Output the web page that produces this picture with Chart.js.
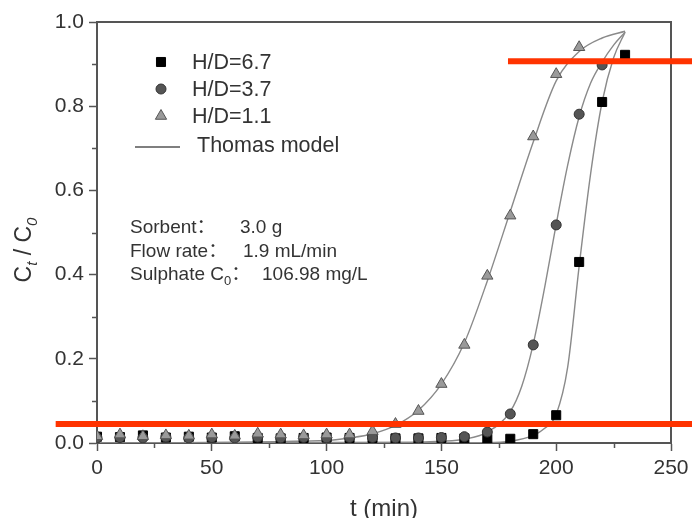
<!DOCTYPE html>
<html>
<head>
<meta charset="utf-8">
<script src="https://cdn.jsdelivr.net/npm/chart.js@4.4.1/dist/chart.umd.min.js"></script>
<style>
  html, body { margin: 0; padding: 0; background: #ffffff; }
  #wrap { width: 692px; height: 518px; }
</style>
</head>
<body>
<div id="wrap"><canvas id="chart" width="692" height="518"></canvas></div>
<script>
// Sampling times (min) of the measured breakthrough points
const sampleTime = [0, 10, 20, 30, 40, 50, 60, 70, 80, 90, 100, 110, 120, 130, 140, 150, 160, 170, 180, 190, 200, 210, 220, 230];

// Measured Ct/C0 for each bed height / diameter ratio
const ratio67 = [0.015, 0.014, 0.018, 0.013, 0.015, 0.013, 0.016, 0.012, 0.011, 0.012, 0.013, 0.012, 0.012, 0.011, 0.011, 0.012, 0.011, 0.010, 0.010, 0.021, 0.066, 0.430, 0.810, 0.922];
const ratio37 = [0.012, 0.013, 0.012, 0.014, 0.012, 0.013, 0.012, 0.014, 0.012, 0.013, 0.012, 0.013, 0.013, 0.012, 0.012, 0.013, 0.015, 0.026, 0.069, 0.233, 0.518, 0.781, 0.898];
const ratio11 = [0.016, 0.020, 0.016, 0.018, 0.017, 0.020, 0.017, 0.022, 0.020, 0.018, 0.020, 0.020, 0.028, 0.045, 0.076, 0.140, 0.233, 0.397, 0.540, 0.728, 0.876, 0.940];

// Thomas model curves
const thomasTime67 = [0, 170, 180, 190, 195, 200, 205, 210, 215, 220, 225, 230];
const thomas67     = [0, 0.001, 0.004, 0.018, 0.035, 0.068, 0.180, 0.420, 0.640, 0.810, 0.915, 0.976];
const thomasTime37 = [0, 140, 150, 160, 170, 180, 185, 190, 195, 200, 205, 210, 215, 220, 225, 230];
const thomas37     = [0, 0.002, 0.004, 0.009, 0.026, 0.075, 0.135, 0.235, 0.370, 0.520, 0.660, 0.775, 0.855, 0.905, 0.945, 0.976];
const thomasTime11 = [0, 100, 110, 120, 130, 140, 150, 160, 170, 180, 190, 200, 210, 220, 230];
const thomas11     = [0, 0.006, 0.012, 0.022, 0.042, 0.078, 0.140, 0.238, 0.385, 0.550, 0.715, 0.860, 0.930, 0.962, 0.978];

// Axis ticks
const xMajorTicks = [0, 50, 100, 150, 200, 250];
const xMinorTicks = [25, 75, 125, 175, 225];
const yMajorTicks = [0, 0.2, 0.4, 0.6, 0.8, 1.0];
const yMinorTicks = [0.1, 0.3, 0.5, 0.7, 0.9];

// Legend and notes
const legendLabels = ['H/D=6.7', 'H/D=3.7', 'H/D=1.1', 'Thomas model'];
const noteLabels = ['Sorbent：', 'Flow rate：', 'Sulphate C'];
const noteValues = ['3.0 g', '1.9 mL/min', '106.98 mg/L'];

// Highlight levels (Ct/C0) and the time each highlight starts from
const highlightLevels = [0.045, 0.907];
const highlightStarts = [-18, 179];

const FONT = '"Liberation Sans", Arial, "Noto Sans CJK SC", sans-serif';
const AXIS_COLOR = '#555555';
const TEXT_COLOR = '#333333';

const toPoints = (xs, ys) => ys.map((y, i) => ({ x: xs[i], y }));

const markerStyles = [
  { pointStyle: 'rect', pointRadius: 6.4, backgroundColor: '#000000', borderColor: '#000000' },
  { pointStyle: 'circle', pointRadius: 5, backgroundColor: '#555555', borderColor: '#333333' },
  { pointStyle: 'triangle', pointRadius: 6.5, backgroundColor: '#9a9a9a', borderColor: '#555555' }
];

function modelLine(xs, ys) {
  return {
    data: toPoints(xs, ys),
    showLine: true,
    pointRadius: 0,
    borderColor: '#8a8a8a',
    borderWidth: 1.4,
    cubicInterpolationMode: 'monotone',
    fill: false,
    order: 10
  };
}

function markerSet(label, ys, style, order) {
  return Object.assign({
    label,
    data: toPoints(sampleTime, ys),
    showLine: false,
    borderWidth: 1,
    pointHoverRadius: style.pointRadius,
    order
  }, style);
}

function drawMarker(ctx, style, x, y) {
  const r = style.pointRadius;
  ctx.save();
  ctx.fillStyle = style.backgroundColor;
  ctx.strokeStyle = style.borderColor;
  ctx.lineWidth = 1;
  ctx.beginPath();
  if (style.pointStyle === 'rect') {
    const s = Math.SQRT1_2 * r;
    ctx.rect(x - s, y - s, 2 * s, 2 * s);
  } else if (style.pointStyle === 'circle') {
    ctx.arc(x, y, r, 0, Math.PI * 2);
  } else {
    let a = 0;
    ctx.moveTo(x + Math.sin(a) * r, y - Math.cos(a) * r);
    a += 2 * Math.PI / 3;
    ctx.lineTo(x + Math.sin(a) * r, y - Math.cos(a) * r);
    a += 2 * Math.PI / 3;
    ctx.lineTo(x + Math.sin(a) * r, y - Math.cos(a) * r);
    ctx.closePath();
  }
  ctx.fill();
  ctx.stroke();
  ctx.restore();
}

const decorations = {
  id: 'decorations',
  afterDatasetsDraw(chart) {
    const { ctx, chartArea: a, scales: { x, y } } = chart;

    // top and right frame
    ctx.save();
    ctx.strokeStyle = AXIS_COLOR;
    ctx.lineWidth = 2;
    ctx.beginPath();
    ctx.moveTo(a.left, a.top);
    ctx.lineTo(a.right, a.top);
    ctx.lineTo(a.right, a.bottom);
    ctx.stroke();

    // minor ticks
    ctx.lineWidth = 1.5;
    ctx.beginPath();
    xMinorTicks.forEach(t => {
      const px = Math.round(x.getPixelForValue(t)) + 0.5;
      ctx.moveTo(px, a.bottom);
      ctx.lineTo(px, a.bottom + 5);
    });
    yMinorTicks.forEach(v => {
      const py = Math.round(y.getPixelForValue(v)) + 0.5;
      ctx.moveTo(a.left, py);
      ctx.lineTo(a.left - 5, py);
    });
    ctx.stroke();
    ctx.restore();

    // legend
    ctx.save();
    ctx.font = '21.5px ' + FONT;
    ctx.fillStyle = TEXT_COLOR;
    ctx.textBaseline = 'middle';
    const rowY = [62, 89, 116];
    markerStyles.forEach((st, i) => {
      drawMarker(ctx, st, 161, rowY[i]);
      ctx.fillText(legendLabels[i], 192, rowY[i] + 1);
    });
    ctx.strokeStyle = '#555555';
    ctx.lineWidth = 1.6;
    ctx.beginPath();
    ctx.moveTo(135, 147);
    ctx.lineTo(180, 147);
    ctx.stroke();
    ctx.fillText(legendLabels[3], 197, 146);
    ctx.restore();

    // experimental conditions
    ctx.save();
    ctx.font = '19px ' + FONT;
    ctx.fillStyle = TEXT_COLOR;
    ctx.textBaseline = 'middle';
    const noteY = [228, 252, 275];
    const valueX = [240, 243, 262];
    ctx.fillText(noteLabels[0], 130, noteY[0]);
    ctx.fillText(noteLabels[1], 130, noteY[1]);
    ctx.fillText(noteLabels[2], 130, noteY[2]);
    const w = ctx.measureText(noteLabels[2]).width;
    ctx.font = '13px ' + FONT;
    ctx.fillText('0', 130 + w, noteY[2] + 6);
    const subW = ctx.measureText('0').width;
    ctx.font = '19px ' + FONT;
    ctx.fillText('：', 130 + w + subW, noteY[2]);
    noteValues.forEach((v, i) => ctx.fillText(v, valueX[i], noteY[i]));
    ctx.restore();

    // y-axis title: Ct / C0
    ctx.save();
    ctx.translate(25, 250);
    ctx.rotate(-Math.PI / 2);
    ctx.fillStyle = TEXT_COLOR;
    ctx.textBaseline = 'middle';
    const parts = [
      { t: 'C', f: '23px ' + FONT, dy: 0 },
      { t: 't', f: 'italic 15px ' + FONT, dy: 8 },
      { t: ' / ', f: '23px ' + FONT, dy: 0 },
      { t: 'C', f: '23px ' + FONT, dy: 0 },
      { t: '0', f: 'italic 15px ' + FONT, dy: 8 }
    ];
    let total = 0;
    parts.forEach(p => { ctx.font = p.f; total += ctx.measureText(p.t).width; });
    let cx = -total / 2;
    parts.forEach(p => {
      ctx.font = p.f;
      ctx.fillText(p.t, cx, p.dy);
      cx += ctx.measureText(p.t).width;
    });
    ctx.restore();
  },
  afterDraw(chart) {
    const { ctx, scales: { x, y } } = chart;
    ctx.save();
    ctx.strokeStyle = '#ff3300';
    ctx.lineWidth = 6;
    ctx.lineCap = 'butt';
    highlightLevels.forEach((v, i) => {
      const py = y.getPixelForValue(v);
      ctx.beginPath();
      ctx.moveTo(x.getPixelForValue(highlightStarts[i]), py);
      ctx.lineTo(chart.width, py);
      ctx.stroke();
    });
    ctx.restore();
  }
};

new Chart(document.getElementById('chart'), {
  type: 'scatter',
  data: {
    datasets: [
      markerSet(legendLabels[0], ratio67, markerStyles[0], 3),
      markerSet(legendLabels[1], ratio37, markerStyles[1], 2),
      markerSet(legendLabels[2], ratio11, markerStyles[2], 1),
      modelLine(thomasTime67, thomas67),
      modelLine(thomasTime37, thomas37),
      modelLine(thomasTime11, thomas11)
    ]
  },
  options: {
    responsive: false,
    animation: false,
    devicePixelRatio: 1,
    layout: { padding: { left: 0, right: 21, top: 22, bottom: 0 } },
    plugins: { legend: { display: false }, tooltip: { enabled: false } },
    scales: {
      x: {
        type: 'linear',
        min: 0,
        max: 250,
        afterBuildTicks: s => { s.ticks = xMajorTicks.map(v => ({ value: v })); },
        afterFit: s => { s.height = 75; s.paddingLeft = 0; s.paddingRight = 0; },
        ticks: { font: { family: FONT, size: 21 }, color: TEXT_COLOR, padding: 5, maxRotation: 0 },
        grid: { drawOnChartArea: false, drawTicks: true, tickLength: 8, tickColor: AXIS_COLOR, tickWidth: 1.5 },
        border: { color: AXIS_COLOR, width: 2 },
        title: { display: true, text: 't (min)', font: { family: FONT, size: 24 }, color: TEXT_COLOR, padding: { top: 4, bottom: -6 } }
      },
      y: {
        type: 'linear',
        min: 0,
        max: 1,
        afterBuildTicks: s => { s.ticks = yMajorTicks.map(v => ({ value: v })); },
        afterFit: s => { s.width = 97; s.paddingTop = 0; s.paddingBottom = 0; },
        ticks: { font: { family: FONT, size: 21 }, color: TEXT_COLOR, padding: 5, callback: v => Number(v).toFixed(1) },
        grid: { drawOnChartArea: false, drawTicks: true, tickLength: 8, tickColor: AXIS_COLOR, tickWidth: 1.5 },
        border: { color: AXIS_COLOR, width: 2 }
      }
    }
  },
  plugins: [decorations]
});
</script>
</body>
</html>
